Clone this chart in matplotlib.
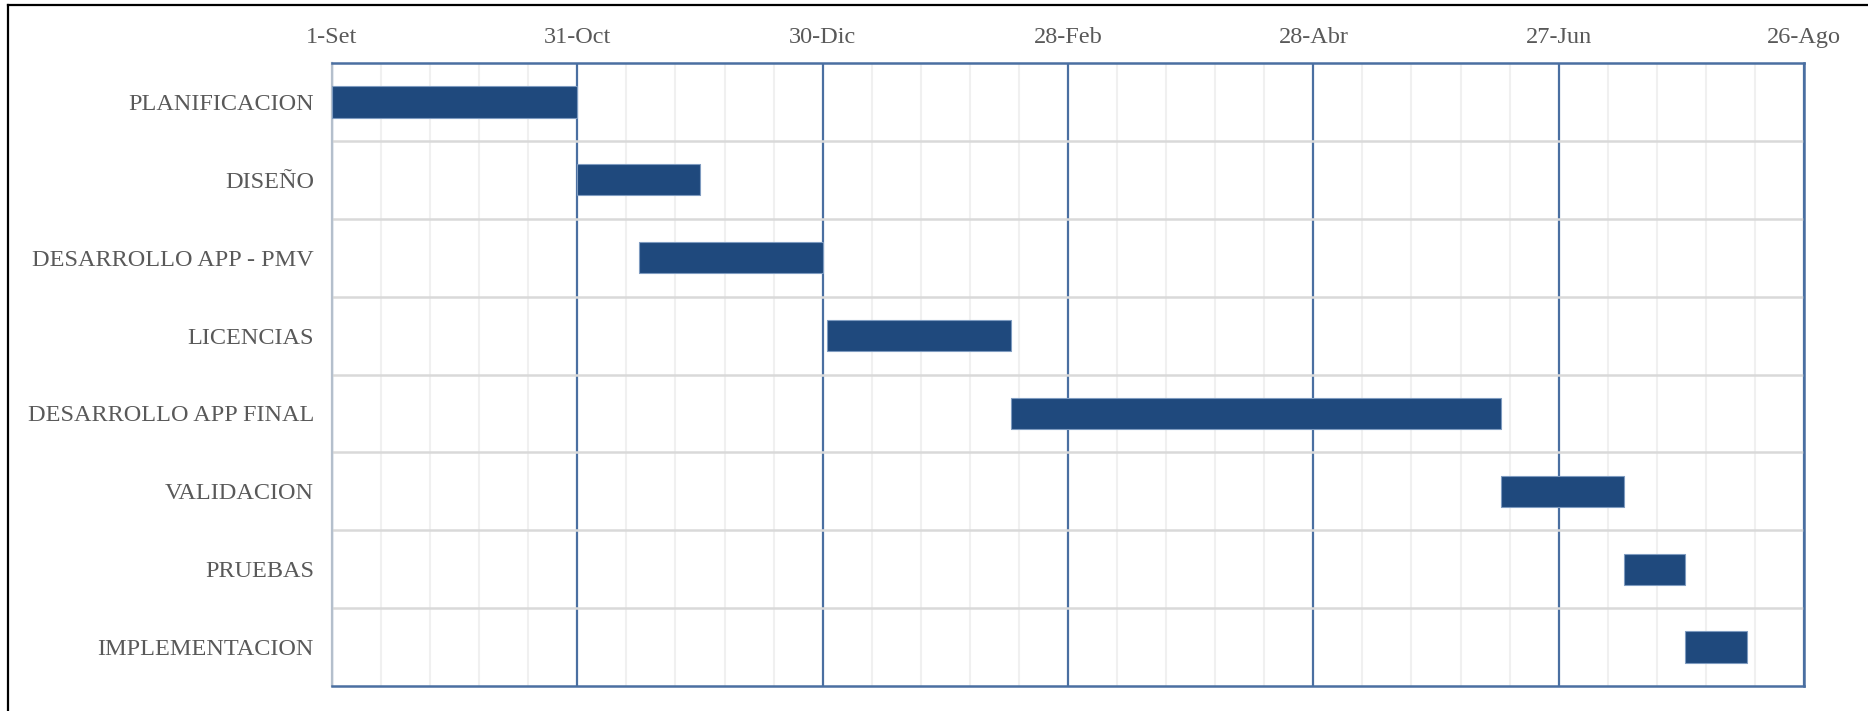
import matplotlib
matplotlib.use("Agg")
import matplotlib.pyplot as plt
from matplotlib.lines import Line2D
import numpy as np

# Project phases, start day (days from 1-Set) and duration in days
tasks = ["PLANIFICACION", "DISEÑO", "DESARROLLO APP - PMV", "LICENCIAS",
         "DESARROLLO APP FINAL", "VALIDACION", "PRUEBAS", "IMPLEMENTACION"]
start_days = [0, 60, 75, 121, 166, 286, 316, 331]
durations = [60, 30, 45, 45, 120, 30, 15, 15]

# Date axis
date_ticks = [0, 60, 120, 180, 240, 300, 360]
date_labels = ["1-Set", "31-Oct", "30-Dic", "28-Feb", "28-Abr", "27-Jun", "26-Ago"]
minor_step = 12

bar_color = "#1F497D"
major_color = "#4A6FA1"
text_color = "#595959"

plt.rcParams["font.family"] = ["Liberation Serif", "DejaVu Serif"]

fig = plt.figure(figsize=(18.68, 7.11), dpi=100)
ax = fig.add_axes([332 / 1868, 1 - 686 / 711, (1804 - 332) / 1868, (686 - 63) / 711])

n = len(tasks)
y = np.arange(n) + 0.5
ax.barh(y, durations, left=start_days, height=0.4, color=bar_color,
        edgecolor="#7E9BC0", linewidth=0.8, zorder=3)

ax.set_xlim(date_ticks[0], date_ticks[-1])
ax.set_ylim(n, 0)

ax.xaxis.tick_top()
ax.set_xticks(date_ticks)
ax.set_xticklabels(date_labels)
ax.set_xticks(np.arange(date_ticks[0], date_ticks[-1] + 1, minor_step), minor=True)
ax.set_yticks(y)
ax.set_yticklabels(tasks)
ax.set_yticks(np.arange(1, n), minor=True)

ax.tick_params(axis="both", which="both", length=0)
ax.tick_params(axis="x", which="major", labelsize=17.5, labelcolor=text_color, pad=11)
ax.tick_params(axis="y", which="major", labelsize=17.5, labelcolor=text_color, pad=13)

ax.set_axisbelow(True)
ax.grid(axis="x", which="minor", color="#F0F0F0", linewidth=1.5)
ax.grid(axis="y", which="minor", color="#D9D9D9", linewidth=1.8)
ax.grid(axis="x", which="major", color=major_color, linewidth=1.6)

for side in ["top", "bottom", "right"]:
    ax.spines[side].set_color(major_color)
    ax.spines[side].set_linewidth(1.8)
ax.spines["left"].set_color("#B4BFCC")
ax.spines["left"].set_linewidth(1.6)

# Outer frame on the left and top edges
fig.add_artist(Line2D([8 / 1868, 8 / 1868], [0, 1 - 5 / 711], color="black",
                      linewidth=1.6, transform=fig.transFigure))
fig.add_artist(Line2D([8 / 1868, 1], [1 - 5 / 711, 1 - 5 / 711], color="black",
                      linewidth=1.6, transform=fig.transFigure))

fig.savefig("out.png", dpi=100)
